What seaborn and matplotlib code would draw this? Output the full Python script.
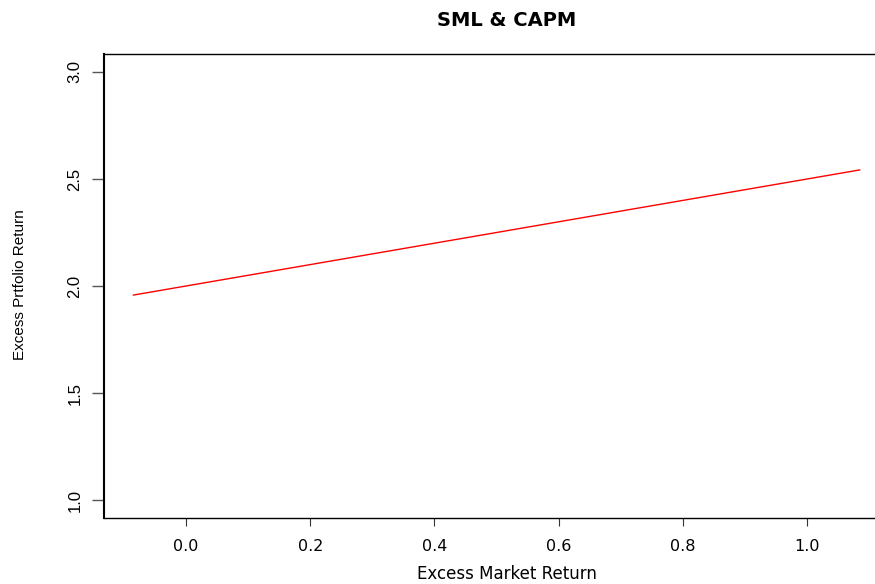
import matplotlib
matplotlib.use("Agg")
import matplotlib.pyplot as plt
import seaborn as sns
import pandas as pd

# Security market line: excess market return vs. excess portfolio return
market_excess = [-0.085, 1.085]
portfolio_excess = [1.9575, 2.5425]
x_ticks = [0.0, 0.2, 0.4, 0.6, 0.8, 1.0]
y_ticks = [1.0, 1.5, 2.0, 2.5, 3.0]

sns.set_style("white")
plt.rcParams["font.family"] = ["Liberation Sans", "DejaVu Sans"]
plt.rcParams.update({"text.color": "black", "xtick.color": "black",
                     "ytick.color": "black", "axes.labelcolor": "black"})

df = pd.DataFrame({"market": market_excess, "portfolio": portfolio_excess})

fig = plt.figure(figsize=(8.75, 5.84), dpi=100)
W, H = 875, 584
left, right, top, bottom = 104, 909, 54, 518
ax = fig.add_axes([left / W, 1 - bottom / H, (right - left) / W, (bottom - top) / H])

sns.lineplot(data=df, x="market", y="portfolio", color="red", linewidth=1.0, ax=ax)

wide = ["DejaVu Sans"]
narrow = ["Liberation Sans"]

ax.set_xlim(-0.132, 1.164)
ax.set_ylim(0.916, 3.084)
ax.set_xticks(x_ticks)
ax.set_xticklabels([f"{v:.1f}" for v in x_ticks], fontsize=11.5, family=wide, color="black")
ax.set_yticks(y_ticks)
ax.set_yticklabels([f"{v:.1f}" for v in y_ticks], fontsize=12, rotation=90, va="center",
                   family=narrow, color="black")
ax.tick_params(axis="x", length=6, width=0.8, color="#333333", pad=9, direction="out")
ax.tick_params(axis="y", length=8.5, width=1.0, color="#555555", pad=7, direction="out")
ax.xaxis.set_ticks_position("bottom")
ax.yaxis.set_ticks_position("left")

for name, sp in ax.spines.items():
    sp.set_color("black")
    sp.set_linewidth(1.0)
ax.spines["left"].set_linewidth(1.5)

ax.set_xlabel("")
ax.set_ylabel("")
fig.text((left + right) / 2 / W, 1 - 21 / H, "SML & CAPM", ha="center", va="center",
         fontsize=14, fontweight="bold", family=wide, color="black")
fig.text((left + right) / 2 / W, 1 - 574 / H, "Excess Market Return", ha="center",
         va="center", fontsize=12, family=wide, color="black")
fig.text(20 / W, 1 - 285 / H, "Excess Prtfolio Return", ha="center", va="center",
         rotation=90, fontsize=11, family=narrow, color="black")

fig.savefig("out.png", dpi=100)
